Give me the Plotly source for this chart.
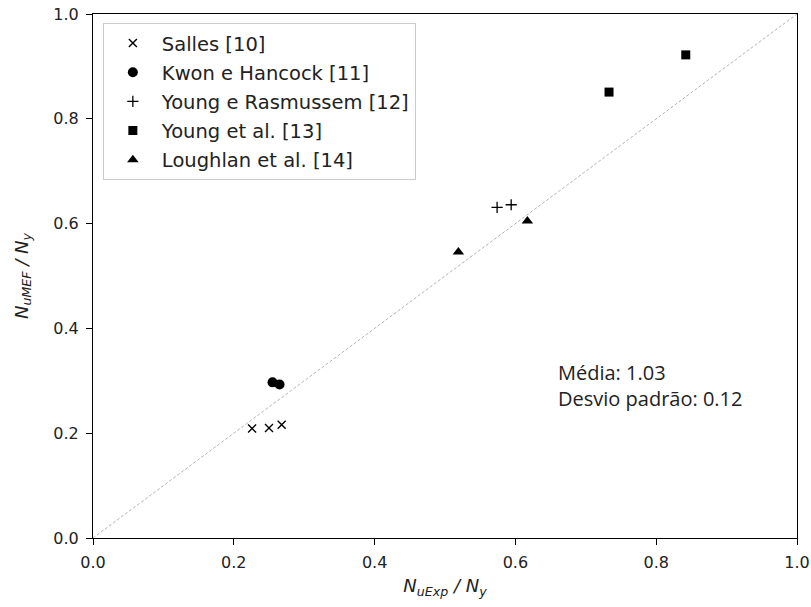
import plotly.graph_objects as go

series_names = ["Salles [10]", "Kwon e Hancock [11]", "Young e Rasmussem [12]",
                "Young et al. [13]", "Loughlan et al. [14]"]
salles_x = [0.226, 0.250, 0.268]
salles_y = [0.209, 0.210, 0.216]
kwon_x = [0.255, 0.265]
kwon_y = [0.297, 0.293]
yr_x = [0.574, 0.594]
yr_y = [0.631, 0.636]
young_x = [0.733, 0.842]
young_y = [0.851, 0.922]
lough_x = [0.519, 0.617]
lough_y = [0.546, 0.605]
ref_line = [0.0, 1.0]
stats_text = ["Média: 1.03", "Desvio padrão: 0.12"]
ticks = [0.0, 0.2, 0.4, 0.6, 0.8, 1.0]

fig = go.Figure()
fig.add_trace(go.Scatter(x=ref_line, y=ref_line, mode="lines",
                         line=dict(color="#aaaaaa", width=0.9, dash="3px,2px"),
                         showlegend=False, hoverinfo="skip"))

specs = [
    (salles_x, salles_y, "x-thin", 8, dict(color="black", width=1.4)),
    (kwon_x, kwon_y, "circle", 10, dict(width=0)),
    (yr_x, yr_y, "cross-thin", 8, dict(color="black", width=1.3)),
    (young_x, young_y, "square", 9, dict(width=0)),
    (lough_x, lough_y, "triangle-up", 10, dict(width=0)),
]
for i, (xs, ys, sym, sz, ln) in enumerate(specs):
    fig.add_trace(go.Scatter(x=xs, y=ys, mode="markers", name=series_names[i],
                             legendgroup=f"g{i}",
                             marker=dict(symbol=sym, size=sz, color="black", line=ln)))

fig.add_annotation(x=0.658, y=0.291, xref="x", yref="y", xanchor="left", yanchor="middle",
                   text=stats_text[0] + "<br>" + stats_text[1], align="left",
                   showarrow=False, font=dict(family="Open Sans", size=20, color="#222"))

axis_common = dict(range=[0, 1], tickvals=ticks, ticktext=[f"{t:.1f}" for t in ticks],
                   showgrid=False, zeroline=False, showline=True, linecolor="black",
                   linewidth=1, mirror=True, ticks="outside", ticklen=6, tickcolor="black",
                   automargin=False, ticklabelstandoff=4,
                   tickfont=dict(family="DejaVu Sans", size=16, color="#222"))

fig.update_layout(
    width=811, height=607,
    margin=dict(l=93, r=14, t=14, b=69),
    plot_bgcolor="white", paper_bgcolor="white",
    xaxis=dict(**axis_common,
               title=dict(text="<i>N</i><sub><i>uExp</i></sub><i> / N</i><sub><i>y</i></sub>",
                          font=dict(family="DejaVu Sans", size=18, color="#222"), standoff=8)),
    yaxis=dict(**axis_common,
               title=dict(text="<i>N</i><sub><i>uMEF</i></sub><i> / N</i><sub><i>y</i></sub>",
                          font=dict(family="DejaVu Sans", size=18, color="#222"), standoff=20)),
    legend=dict(x=0.014, y=0.983, xanchor="left", yanchor="top",
                bordercolor="#cccccc", borderwidth=1, bgcolor="white",
                font=dict(family="DejaVu Sans", size=19.5, color="#222"),
                tracegroupgap=0.8, traceorder="grouped", itemwidth=48),
)

fig.write_html("out.html")
